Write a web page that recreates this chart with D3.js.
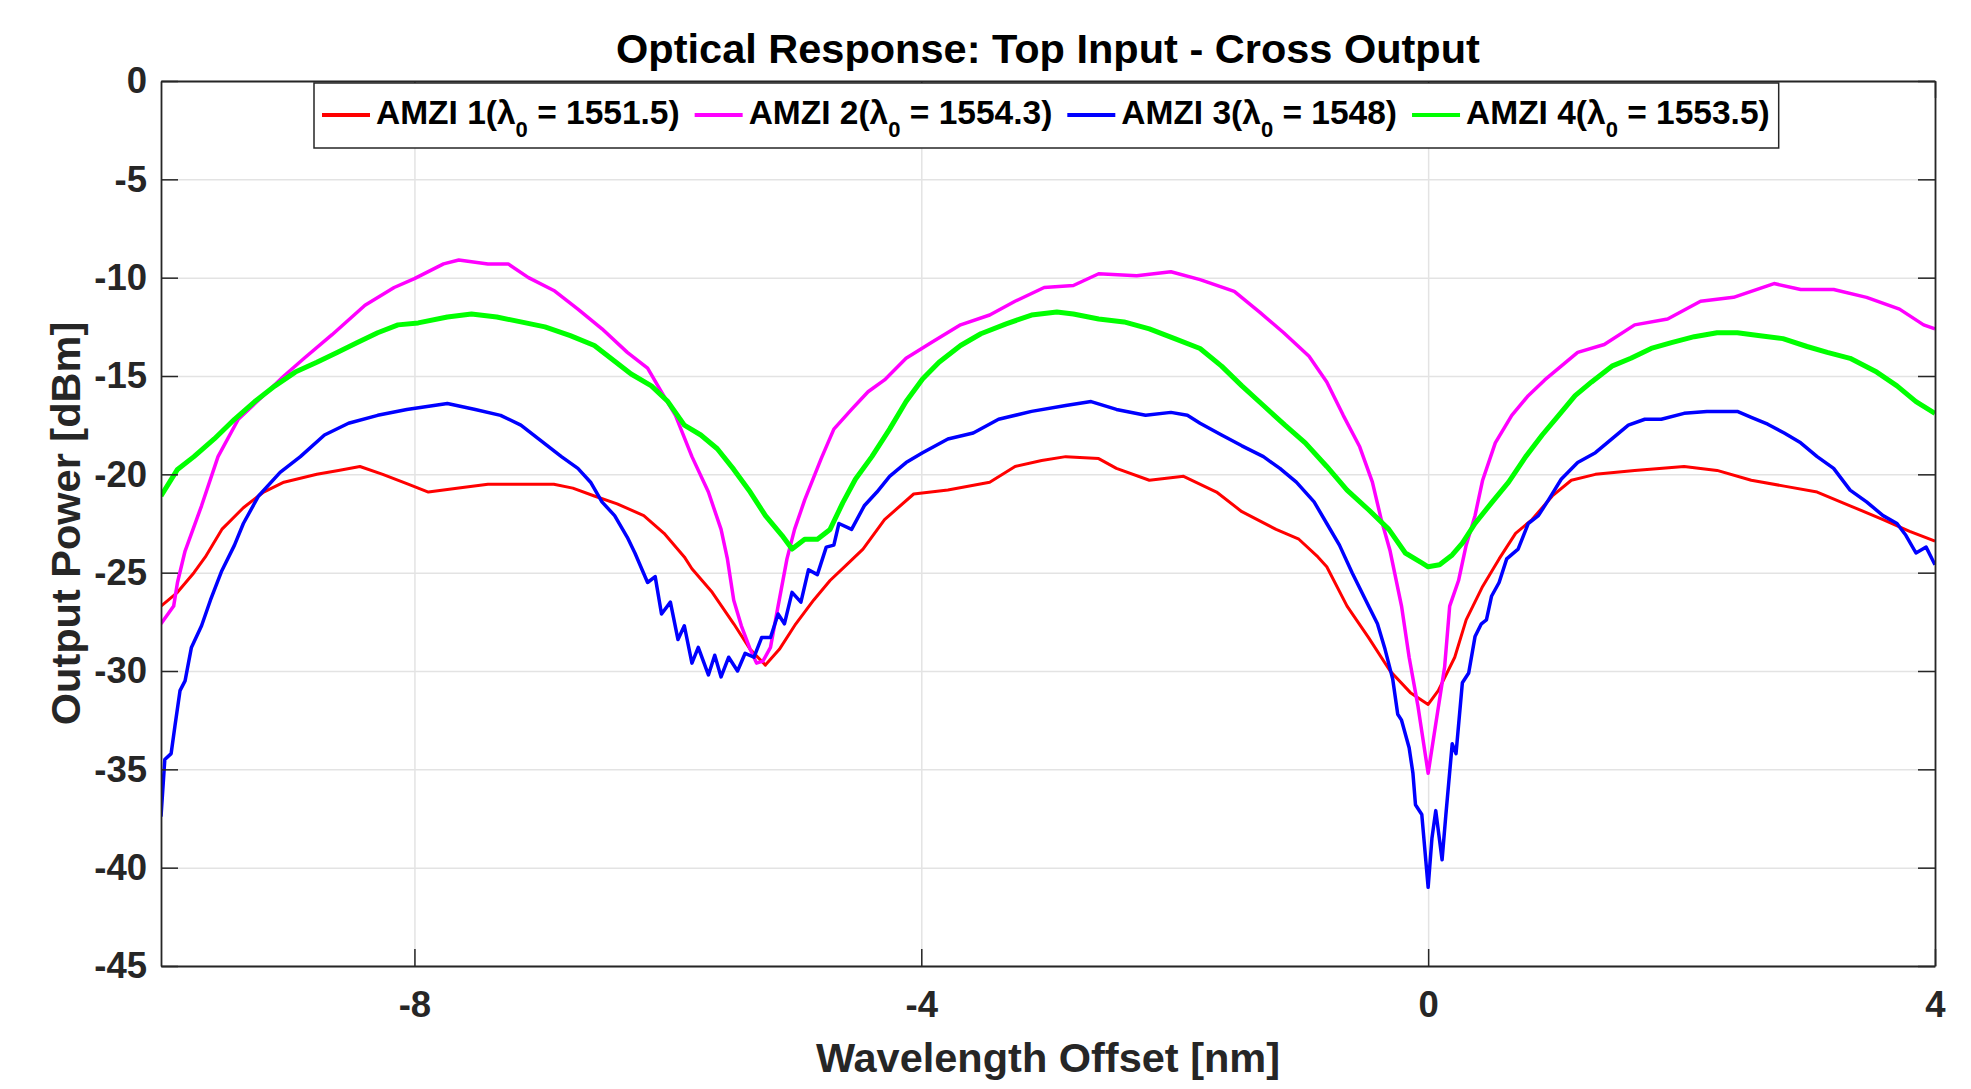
<!DOCTYPE html>
<html>
<head>
<meta charset="utf-8">
<script src="https://cdn.jsdelivr.net/npm/d3@7"></script>
<style>
  body { margin: 0; background: #fff; }
  text { font-family: "Liberation Sans", Arial, Helvetica, sans-serif; font-weight: bold; }
</style>
</head>
<body>
<div id="chart"></div>
<script>
// series: [wavelength offset nm, output power dBm]
var amzi1 = [[-10,-26.7],[-9.87,-26.0],[-9.74,-25.0],[-9.65,-24.2],[-9.52,-22.8],[-9.35,-21.7],[-9.19,-20.9],[-9.03,-20.4],
	[-8.77,-20.0],[-8.6,-19.8],[-8.43,-19.6],[-8.25,-20.0],[-8.05,-20.5],[-7.89,-20.9],[-7.65,-20.7],[-7.42,-20.5],[-7.15,-20.5],
	[-6.9,-20.5],[-6.75,-20.7],[-6.58,-21.1],[-6.4,-21.5],[-6.19,-22.1],[-6.03,-23.0],[-5.87,-24.2],[-5.81,-24.8],[-5.65,-26.0],
	[-5.48,-27.6],[-5.35,-28.9],[-5.23,-29.7],[-5.12,-28.9],[-4.99,-27.6],[-4.85,-26.4],[-4.72,-25.4],[-4.59,-24.6],[-4.46,-23.8],
	[-4.29,-22.3],[-4.06,-21.0],[-3.79,-20.8],[-3.46,-20.4],[-3.26,-19.6],[-3.05,-19.3],[-2.86,-19.1],[-2.6,-19.2],[-2.46,-19.7],
	[-2.2,-20.3],[-1.93,-20.1],[-1.67,-20.9],[-1.47,-21.9],[-1.2,-22.8],[-1.02,-23.3],[-0.87,-24.2],[-0.8,-24.7],[-0.64,-26.7],
	[-0.47,-28.3],[-0.3,-30.0],[-0.14,-31.1],[0,-31.7],[0.08,-31.0],[0.21,-29.3],[0.3,-27.4],[0.43,-25.7],[0.56,-24.3],[0.69,-23.0],
	[0.82,-22.3],[0.98,-21.1],[1.13,-20.3],[1.32,-20.0],[1.63,-19.8],[2.02,-19.6],[2.28,-19.8],[2.55,-20.3],[2.81,-20.6],[3.07,-20.9],
	[3.33,-21.6],[3.59,-22.3],[3.8,-22.9],[4,-23.4]];

var amzi2 = [[-10,-27.6],[-9.9,-26.7],[-9.87,-25.5],[-9.81,-23.9],[-9.68,-21.6],[-9.55,-19.1],[-9.39,-17.2],[-9.16,-15.8],[-9.03,-15.0],
	[-8.87,-14.1],[-8.65,-12.9],[-8.39,-11.4],[-8.16,-10.5],[-8.0,-10.05],[-7.77,-9.3],[-7.65,-9.1],[-7.42,-9.3],[-7.26,-9.3],[-7.1,-10.0],
	[-6.9,-10.65],[-6.71,-11.6],[-6.52,-12.6],[-6.32,-13.8],[-6.16,-14.6],[-6.06,-15.7],[-5.94,-17.0],[-5.81,-19.1],[-5.68,-20.9],
	[-5.58,-22.8],[-5.53,-24.3],[-5.48,-26.4],[-5.42,-27.7],[-5.35,-28.9],[-5.3,-29.6],[-5.25,-29.5],[-5.19,-28.8],[-5.13,-26.7],
	[-5.06,-24.3],[-5.0,-22.8],[-4.92,-21.3],[-4.79,-19.2],[-4.69,-17.7],[-4.55,-16.7],[-4.42,-15.8],[-4.29,-15.2],[-4.12,-14.1],
	[-3.92,-13.3],[-3.69,-12.4],[-3.46,-11.9],[-3.26,-11.2],[-3.03,-10.5],[-2.8,-10.4],[-2.6,-9.8],[-2.3,-9.9],[-2.03,-9.7],[-1.8,-10.1],
	[-1.53,-10.7],[-1.33,-11.75],[-1.14,-12.8],[-0.94,-14.0],[-0.8,-15.3],[-0.67,-17.0],[-0.54,-18.6],[-0.44,-20.4],[-0.37,-22.3],
	[-0.3,-23.9],[-0.21,-26.7],[-0.15,-29.3],[-0.08,-31.8],[0,-35.2],[0.06,-32.7],[0.13,-29.8],[0.17,-26.7],[0.24,-25.4],[0.3,-23.6],
	[0.37,-22.1],[0.43,-20.3],[0.53,-18.4],[0.66,-17.0],[0.79,-16.0],[0.92,-15.2],[1.05,-14.5],[1.18,-13.8],[1.39,-13.4],[1.63,-12.4],
	[1.89,-12.1],[2.15,-11.2],[2.41,-11.0],[2.73,-10.3],[2.94,-10.6],[3.2,-10.6],[3.46,-11.0],[3.72,-11.6],[3.91,-12.4],[4,-12.6]];

var amzi3 = [[-10,-37.4],[-9.97,-34.5],[-9.92,-34.2],[-9.89,-32.8],[-9.85,-31.0],[-9.81,-30.5],[-9.76,-28.8],[-9.68,-27.7],[-9.61,-26.4],
	[-9.52,-24.9],[-9.42,-23.6],[-9.35,-22.5],[-9.23,-21.1],[-9.06,-19.9],[-8.9,-19.1],[-8.71,-18.0],[-8.52,-17.4],[-8.29,-17.0],
	[-8.06,-16.7],[-7.74,-16.4],[-7.52,-16.7],[-7.32,-17.0],[-7.16,-17.5],[-7.0,-18.3],[-6.84,-19.1],[-6.71,-19.7],[-6.61,-20.4],
	[-6.52,-21.4],[-6.42,-22.1],[-6.32,-23.2],[-6.26,-24.0],[-6.16,-25.5],[-6.1,-25.2],[-6.05,-27.1],[-5.98,-26.5],[-5.92,-28.4],
	[-5.87,-27.7],[-5.81,-29.6],[-5.76,-28.8],[-5.68,-30.2],[-5.63,-29.2],[-5.58,-30.3],[-5.52,-29.3],[-5.45,-30.0],[-5.39,-29.1],
	[-5.32,-29.3],[-5.26,-28.3],[-5.19,-28.3],[-5.13,-27.1],[-5.08,-27.6],[-5.02,-26.0],[-4.95,-26.5],[-4.89,-24.85],[-4.82,-25.1],
	[-4.75,-23.7],[-4.69,-23.6],[-4.65,-22.5],[-4.55,-22.8],[-4.45,-21.6],[-4.35,-20.9],[-4.25,-20.1],[-4.12,-19.4],[-3.99,-18.9],
	[-3.79,-18.2],[-3.59,-17.9],[-3.39,-17.2],[-3.13,-16.8],[-2.86,-16.5],[-2.66,-16.3],[-2.46,-16.7],[-2.23,-17.0],[-2.03,-16.85],
	[-1.9,-17.0],[-1.8,-17.4],[-1.63,-18.0],[-1.47,-18.55],[-1.3,-19.1],[-1.17,-19.7],[-1.04,-20.4],[-0.9,-21.4],[-0.8,-22.5],
	[-0.7,-23.6],[-0.6,-25.0],[-0.47,-26.7],[-0.4,-27.6],[-0.34,-28.9],[-0.28,-30.4],[-0.24,-32.2],[-0.21,-32.5],[-0.15,-33.9],
	[-0.12,-35.2],[-0.1,-36.8],[-0.05,-37.3],[0,-41.0],[0.03,-38.5],[0.06,-37.1],[0.11,-39.6],[0.14,-37.3],[0.19,-33.7],[0.22,-34.2],
	[0.27,-30.6],[0.32,-30.1],[0.37,-28.25],[0.42,-27.6],[0.46,-27.4],[0.5,-26.2],[0.56,-25.5],[0.62,-24.3],[0.71,-23.8],[0.79,-22.5],
	[0.87,-22.1],[0.95,-21.3],[1.05,-20.25],[1.18,-19.4],[1.32,-18.9],[1.45,-18.2],[1.58,-17.5],[1.71,-17.2],[1.84,-17.2],[2.02,-16.9],
	[2.2,-16.8],[2.44,-16.8],[2.55,-17.1],[2.68,-17.45],[2.81,-17.9],[2.94,-18.4],[3.07,-19.1],[3.2,-19.7],[3.33,-20.8],[3.46,-21.4],
	[3.59,-22.1],[3.7,-22.5],[3.77,-23.1],[3.85,-24.0],[3.93,-23.7],[4,-24.6]];

var amzi4 = [[-10,-21.1],[-9.87,-19.75],[-9.74,-19.1],[-9.58,-18.2],[-9.42,-17.2],[-9.26,-16.3],[-9.1,-15.5],[-8.94,-14.8],[-8.77,-14.3],
	[-8.61,-13.8],[-8.45,-13.3],[-8.29,-12.8],[-8.13,-12.4],[-7.97,-12.3],[-7.74,-12.0],[-7.55,-11.85],[-7.35,-12.0],[-7.16,-12.25],
	[-6.97,-12.5],[-6.77,-12.95],[-6.58,-13.45],[-6.45,-14.1],[-6.29,-14.9],[-6.13,-15.5],[-6.0,-16.3],[-5.87,-17.5],[-5.74,-18.0],
	[-5.61,-18.7],[-5.48,-19.75],[-5.35,-20.9],[-5.23,-22.1],[-5.1,-23.1],[-5.02,-23.8],[-4.92,-23.3],[-4.82,-23.3],[-4.72,-22.8],
	[-4.62,-21.45],[-4.52,-20.25],[-4.39,-19.1],[-4.25,-17.7],[-4.12,-16.3],[-3.99,-15.15],[-3.86,-14.3],[-3.69,-13.45],[-3.53,-12.85],
	[-3.33,-12.35],[-3.13,-11.9],[-2.93,-11.75],[-2.8,-11.85],[-2.6,-12.1],[-2.4,-12.25],[-2.2,-12.6],[-2.0,-13.1],[-1.8,-13.6],
	[-1.63,-14.5],[-1.47,-15.5],[-1.3,-16.5],[-1.13,-17.5],[-0.97,-18.4],[-0.8,-19.6],[-0.64,-20.8],[-0.47,-21.8],[-0.31,-22.8],
	[-0.18,-24.0],[-0.05,-24.5],[0,-24.7],[0.09,-24.6],[0.19,-24.1],[0.27,-23.5],[0.37,-22.5],[0.5,-21.45],[0.635,-20.4],[0.77,-19.1],
	[0.9,-18.0],[1.03,-17.0],[1.16,-16.0],[1.29,-15.3],[1.45,-14.5],[1.6,-14.1],[1.76,-13.6],[1.92,-13.3],[2.1,-13.0],[2.28,-12.8],
	[2.44,-12.8],[2.62,-12.95],[2.8,-13.1],[2.99,-13.5],[3.15,-13.8],[3.33,-14.1],[3.54,-14.8],[3.7,-15.5],[3.85,-16.3],[4,-16.9]];

var seriesNames = ["AMZI 1", "AMZI 2", "AMZI 3", "AMZI 4"];
var lambda0 = ["1551.5", "1554.3", "1548", "1553.5"];
var xTicks = [-8, -4, 0, 4];
var yTicks = [0, -5, -10, -15, -20, -25, -30, -35, -40, -45];

var series = [amzi1, amzi2, amzi3, amzi4];
var colors = ["#ff0000", "#ff00ff", "#0000ff", "#00ff00"];
var lineWidths = [3, 3.5, 3.5, 5];

// chart dimensions
var width = 1971;
var height = 1089;
var plot = { left: 161, right: 1935, top: 81, bottom: 966 };
var axisColor = "#262626";
var tickLen = 17;

var x = d3.scaleLinear().domain([-10, 4]).range([plot.left, plot.right]);
var y = d3.scaleLinear().domain([-45, 0]).range([plot.bottom, plot.top]);

var svg = d3.select("#chart")
	.append("svg")
	.attr("width", width)
	.attr("height", height)
	.style("background", "#fff");

// grid
svg.append("g")
	.attr("transform", "translate(0," + plot.bottom + ")")
	.call(d3.axisBottom(x).tickValues(xTicks).tickSize(-(plot.bottom - plot.top)).tickFormat(""))
	.call(function(g) { g.select(".domain").remove(); })
	.selectAll("line").attr("stroke", "#e3e3e3").attr("stroke-width", 1.5);

svg.append("g")
	.attr("transform", "translate(" + plot.left + ",0)")
	.call(d3.axisLeft(y).tickValues(yTicks).tickSize(-(plot.right - plot.left)).tickFormat(""))
	.call(function(g) { g.select(".domain").remove(); })
	.selectAll("line").attr("stroke", "#e3e3e3").attr("stroke-width", 1.5);

// lines
svg.append("clipPath").attr("id", "clip")
	.append("rect")
	.attr("x", plot.left).attr("y", plot.top)
	.attr("width", plot.right - plot.left).attr("height", plot.bottom - plot.top);

var line = d3.line()
	.x(function(d) { return x(d[0]); })
	.y(function(d) { return y(d[1]); });

svg.append("g")
	.attr("clip-path", "url(#clip)")
	.selectAll("path")
	.data(series)
	.enter()
	.append("path")
	.attr("d", line)
	.attr("fill", "none")
	.attr("stroke", function(d, i) { return colors[i]; })
	.attr("stroke-width", function(d, i) { return lineWidths[i]; })
	.attr("stroke-linejoin", "round");

// axes (ticks inward, box on)
var fmt = function(d) { return String(d); };

function styleAxis(g) {
	g.select(".domain").attr("stroke", axisColor).attr("stroke-width", 1.8);
	g.selectAll(".tick line").attr("stroke", axisColor).attr("stroke-width", 1.5);
	g.selectAll("text")
		.attr("fill", "#262626")
		.style("font-size", "36.5px");
}

svg.append("g")
	.attr("transform", "translate(0," + plot.bottom + ")")
	.call(d3.axisBottom(x).tickValues(xTicks).tickSizeInner(-tickLen).tickSizeOuter(0).tickPadding(25).tickFormat(fmt))
	.call(styleAxis);

svg.append("g")
	.attr("transform", "translate(0," + plot.top + ")")
	.call(d3.axisTop(x).tickValues(xTicks).tickSizeInner(-tickLen).tickSizeOuter(0).tickFormat(""))
	.call(styleAxis);

svg.append("g")
	.attr("transform", "translate(" + plot.left + ",0)")
	.call(d3.axisLeft(y).tickValues(yTicks).tickSizeInner(-tickLen).tickSizeOuter(0).tickPadding(14).tickFormat(fmt))
	.call(styleAxis);

svg.append("g")
	.attr("transform", "translate(" + plot.right + ",0)")
	.call(d3.axisRight(y).tickValues(yTicks).tickSizeInner(-tickLen).tickSizeOuter(0).tickFormat(""))
	.call(styleAxis);

// title and labels
svg.append("text")
	.attr("x", (plot.left + plot.right) / 2)
	.attr("y", 63)
	.attr("text-anchor", "middle")
	.style("font-size", "41.5px")
	.text("Optical Response: Top Input - Cross Output");

svg.append("text")
	.attr("x", (plot.left + plot.right) / 2)
	.attr("y", 1072)
	.attr("text-anchor", "middle")
	.attr("fill", "#262626")
	.style("font-size", "41.5px")
	.text("Wavelength Offset [nm]");

svg.append("text")
	.attr("transform", "translate(80," + ((plot.top + plot.bottom) / 2) + ") rotate(-90)")
	.attr("text-anchor", "middle")
	.attr("fill", "#262626")
	.style("font-size", "41.5px")
	.text("Output Power [dBm]");

// legend
var legend = svg.append("g").attr("class", "legend");
var legendBox = legend.append("rect")
	.attr("fill", "#fff")
	.attr("stroke", axisColor)
	.attr("stroke-width", 1.5);

var lx = 322;
var sampleLen = 48;
seriesNames.forEach(function(name, i) {
	legend.append("line")
		.attr("x1", lx).attr("x2", lx + sampleLen)
		.attr("y1", 115).attr("y2", 115)
		.attr("stroke", colors[i])
		.attr("stroke-width", 4);
	var t = legend.append("text")
		.attr("x", lx + sampleLen + 6)
		.attr("y", 124)
		.style("font-size", "33.5px");
	t.append("tspan").text(name + "(\u03bb");
	t.append("tspan").attr("dy", 13).style("font-size", "22px").text("0");
	t.append("tspan").attr("dy", -13).text(" = " + lambda0[i] + ")");
	lx = lx + sampleLen + 6 + t.node().getBBox().width + 15;
});

legendBox
	.attr("x", 314).attr("y", 83)
	.attr("width", lx - 15 + 9 - 314)
	.attr("height", 65);
</script>
</body>
</html>
